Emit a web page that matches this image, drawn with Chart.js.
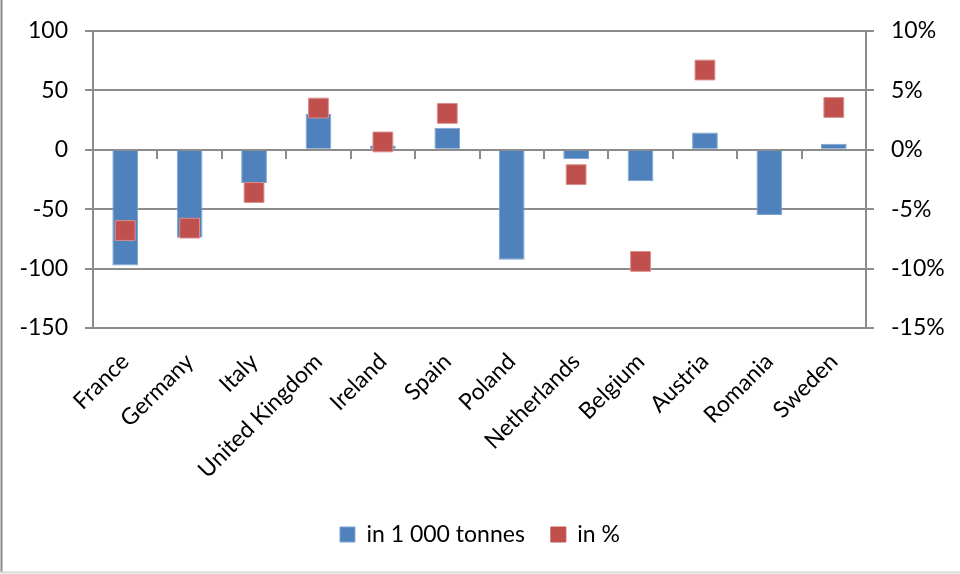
<!DOCTYPE html>
<html>
<head>
<meta charset="utf-8">
<script src="https://cdn.jsdelivr.net/npm/chart.js@4.4.0/dist/chart.umd.min.js"></script>
<style>
  html, body { margin: 0; padding: 0; background: #fff; }
  #wrap { width: 960px; height: 574px; position: relative; }
</style>
</head>
<body>
<div id="wrap"><canvas id="c" width="960" height="574"></canvas></div>
<script>
const categories = ["France", "Germany", "Italy", "United Kingdom", "Ireland", "Spain",
  "Poland", "Netherlands", "Belgium", "Austria", "Romania", "Sweden"];
const tonnes = [-97.5, -74, -28, 30, 3.5, 18.5, -92.5, -8, -26.5, 14.5, -55, 5];
const percent = [-6.8, -6.6, -3.6, 3.5, 0.65, 3.05, null, -2.1, -9.4, 6.7, null, 3.55];
const leftTicks = [-150, -100, -50, 0, 50, 100];
const rightTicks = [-15, -10, -5, 0, 5, 10];

const FONT = "Lato";
const FS = 23;
const GRID = "#8c8c8c";

const framePlugin = {
  id: "frame",
  afterDraw(chart) {
    const ctx = chart.ctx;
    ctx.save();
    ctx.strokeStyle = "#8a8a8a";
    ctx.lineWidth = 2;
    ctx.beginPath();
    ctx.moveTo(1.5, 0);
    ctx.lineTo(1.5, 573);
    ctx.stroke();
    ctx.strokeStyle = "#d9d9d9";
    ctx.beginPath();
    ctx.moveTo(0, 572.5);
    ctx.lineTo(960, 572.5);
    ctx.stroke();
    ctx.restore();
  }
};

new Chart(document.getElementById("c"), {
  data: {
    labels: categories,
    datasets: [
      {
        type: "bar",
        label: "in 1 000 tonnes",
        data: tonnes,
        backgroundColor: "#4F81BD",
        borderColor: "#7ea3d2",
        borderWidth: 1,
        categoryPercentage: 1.0,
        barPercentage: 0.4,
        xAxisID: "x",
        yAxisID: "y",
        order: 1
      },
      {
        type: "line",
        label: "in %",
        data: percent,
        showLine: false,
        pointStyle: "rect",
        pointRadius: 14,
        pointHoverRadius: 14,
        backgroundColor: "#C0504D",
        borderColor: "#C0504D",
        pointBorderColor: "#d98f8d",
        pointBorderWidth: 1,
        borderWidth: 1,
        xAxisID: "x",
        yAxisID: "y2",
        order: 0
      }
    ]
  },
  options: {
    responsive: false,
    animation: false,
    layout: { padding: { left: 0, right: 0, top: 28, bottom: 18 } },
    plugins: {
      tooltip: { enabled: false },
      legend: {
        position: "bottom",
        labels: {
          font: { family: FONT, size: FS },
          color: "#000",
          boxWidth: 15,
          boxHeight: 15,
          padding: 26,
          sort: (a, b) => a.datasetIndex - b.datasetIndex
        }
      }
    },
    scales: {
      x: {
        type: "category",
        position: "bottom",
        offset: true,
        grid: { display: false },
        border: { display: false },
        ticks: {
          autoSkip: false,
          maxRotation: 45,
          minRotation: 45,
          padding: 12,
          color: "#000",
          font: { family: FONT, size: FS }
        },
        afterFit(scale) { scale.height = 169; }
      },
      x0: {
        type: "category",
        position: { y: 0 },
        offset: true,
        grid: { offset: true, drawOnChartArea: false, drawTicks: true, tickLength: 8, color: GRID, lineWidth: 2 },
        border: { display: true, color: GRID, width: 2 },
        ticks: { display: false }
      },
      y: {
        type: "linear",
        position: "left",
        min: -150,
        max: 100,
        afterBuildTicks(scale) { scale.ticks = leftTicks.map(v => ({ value: v })); },
        grid: { color: GRID, lineWidth: 2, drawTicks: true, tickLength: 8 },
        border: { display: true, color: GRID, width: 2 },
        ticks: {
          padding: 17,
          color: "#000",
          font: { family: FONT, size: FS },
          callback: v => String(v)
        },
        afterFit(scale) { scale.width = 93; }
      },
      y2: {
        type: "linear",
        position: "right",
        min: -15,
        max: 10,
        afterBuildTicks(scale) { scale.ticks = rightTicks.map(v => ({ value: v })); },
        grid: { drawOnChartArea: false, color: GRID, lineWidth: 2, drawTicks: true, tickLength: 8 },
        border: { display: true, color: GRID, width: 2 },
        ticks: {
          padding: 17,
          color: "#000",
          font: { family: FONT, size: FS },
          callback: v => v + "%"
        },
        afterFit(scale) { scale.width = 94; }
      }
    }
  },
  plugins: [framePlugin]
});
</script>
</body>
</html>
